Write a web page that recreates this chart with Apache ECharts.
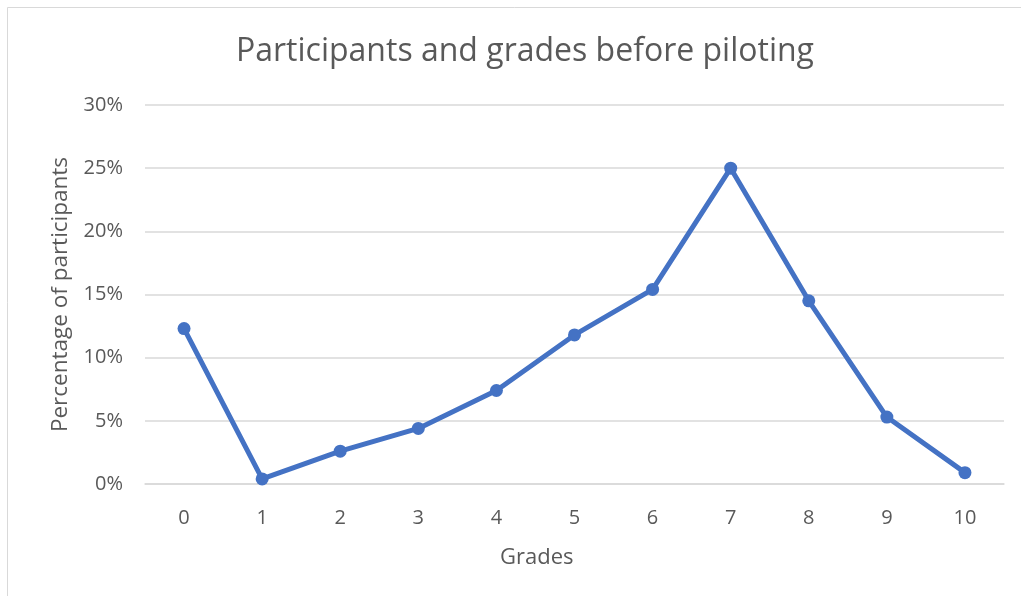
<!DOCTYPE html>
<html><head><meta charset="utf-8">
<script src="https://cdn.jsdelivr.net/npm/echarts@6/dist/echarts.min.js"></script>
<style>html,body{margin:0;padding:0;background:#fff}#c{width:1021px;height:596px}</style>
</head><body><div id="c"></div>
<script>
const titleText = "Participants and grades before piloting";
const categories = ["0","1","2","3","4","5","6","7","8","9","10"];
const values = [12.3, 0.4, 2.6, 4.4, 7.4, 11.8, 15.4, 25.0, 14.5, 5.3, 0.9];
const xName = "Grades";
const yName = "Percentage of participants";

const font = "'Open Sans', 'Liberation Sans', sans-serif";
const chart = echarts.init(document.getElementById('c'), null, {renderer:'canvas'});
chart.setOption({
  animation: false,
  backgroundColor: '#fff',
  graphic: [
    {type:'rect', shape:{x:7.5,y:7.5,width:1100,height:700}, style:{fill:'none', stroke:'#d9d9d9', lineWidth:1}, silent:true},
    {type:'text', left: 500, top: 547, style:{text: xName, font: "22px 'Open Sans', sans-serif", fill:'#595959'}, silent:true}
  ],
  title: {text: titleText, left: 231, top: 31,
    textStyle:{fontFamily: font, fontSize: 32, fontWeight:'normal', color:'#595959'}},
  grid: {left:145, right:17, top:105, bottom:112, containLabel:false},
  xAxis: {type:'category', data: categories, boundaryGap: true,
    axisLine:{show:true, lineStyle:{color:'#d9d9d9', width:1.5}}, axisTick:{show:false},
    axisLabel:{fontFamily:font, fontSize:20, color:'#595959', margin:24}},
  yAxis: {type:'value', min:0, max:30, interval:5,
    name: yName, nameLocation:'middle', nameGap: 73,
    nameTextStyle:{fontFamily:font, fontSize:22.5, color:'#595959'},
    axisLine:{show:false}, axisTick:{show:false},
    axisLabel:{fontFamily:font, fontSize:20, color:'#595959', margin:22, formatter: v => v + '%'},
    splitLine:{lineStyle:{color:'#d9d9d9', width:1.5}}},
  series: [{type:'line', data: values, symbol:'circle', symbolSize:13,
    lineStyle:{color:'#4472c4', width:5}, itemStyle:{color:'#4472c4'}}]
});
</script></body></html>
